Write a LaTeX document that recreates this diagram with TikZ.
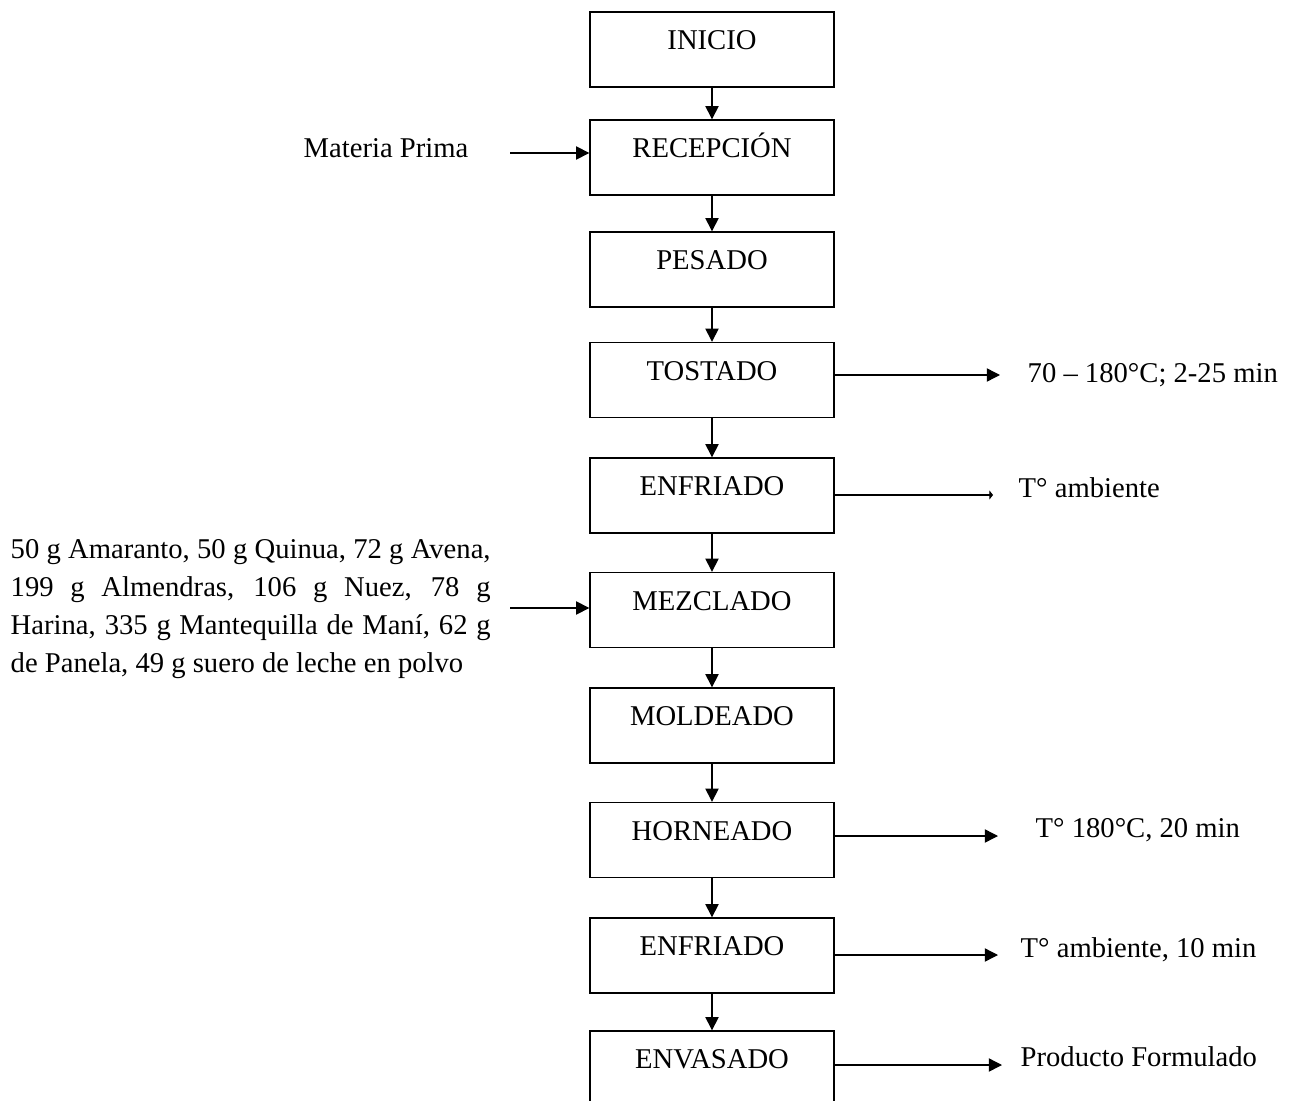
\documentclass[tikz,border=0pt]{standalone}
\usepackage{fontspec}
\setmainfont{Liberation Serif}
\usetikzlibrary{calc, positioning, arrows.meta}

\begin{document}
\begin{tikzpicture}[x=0.02cm,y=-0.02cm,line width=0.8pt,>={Triangle[length=7.5pt,width=7.5pt]},font=\fontsize{16.3}{21.6}\selectfont]
  \tikzset{proc/.style={draw,minimum width=4.88cm,minimum height=1.5cm,text height=0.7em,text depth=0.7em,inner sep=2pt}}
  \tikzset{note/.style={inner sep=0,anchor=base west}}
  \path[use as bounding box] (0,0) rectangle (1291,1101);
  \clip (0,0) rectangle (1291,1101);
  \node[proc](inicio) at (712,49.5) {INICIO};
  \node[proc](recep) at (712,157.5) {RECEPCIÓN};
  \node[proc](pesado) at (712,269.5) {PESADO};
  \node[proc](tost) at (712,380) {TOSTADO};
  \node[proc](enf1) at (712,495.5) {ENFRIADO};
  \node[proc](mezc) at (712,610) {MEZCLADO};
  \node[proc](mold) at (712,725.5) {MOLDEADO};
  \node[proc](horn) at (712,840) {HORNEADO};
  \node[proc](enf2) at (712,955.5) {ENFRIADO};
  \node[proc](envas) at (712,1068.5) {ENVASADO};
  \draw [->] (inicio) -- (recep);
  \draw [->] (recep) -- (pesado);
  \draw [->] (pesado) -- (tost);
  \draw [->] (tost) -- (enf1);
  \draw [->] (enf1) -- (mezc);
  \draw [->] (mezc) -- (mold);
  \draw [->] (mold) -- (horn);
  \draw [->] (horn) -- (enf2);
  \draw [->] (enf2) -- (envas);
  \coordinate(mp) at (510,153);
  \coordinate(ing) at (510,608);
  \coordinate(t1) at (1000,375);
  \coordinate(t2) at (993,495);
  \coordinate(t3) at (998,836);
  \coordinate(t4) at (998,955);
  \coordinate(t5) at (1002,1065);
  \node[note](mpl) at (303,158) {Materia Prima};
  \node[note,align=left](ingl) at (10,672) {\makebox[9.6cm][s]{50 g Amaranto, 50 g Quinua, 72 g Avena,}\\
    \makebox[9.6cm][s]{199 g Almendras, 106 g Nuez, 78 g}\\
    \makebox[9.6cm][s]{Harina, 335 g Mantequilla de Maní, 62 g}\\
    de Panela, 49 g suero de leche en polvo};
  \node[note](t1l) at (1027,382) {70 – 180°C; 2-25 min};
  \node[note](t2l) at (1018,497) {T° ambiente};
  \node[note](t3l) at (1035,837) {T° 180°C, 20 min};
  \node[note](t4l) at (1020,957) {T° ambiente, 10 min};
  \node[note](t5l) at (1020,1066) {Producto Formulado};
  \draw [->] (mp) -- (recep.west |- mp);
  \draw [->] (ing) -- (mezc.west |- ing);
  \draw [->] (tost.east |- t1) -- (t1);
  \draw [-{Triangle[length=2pt,width=5pt]}] (enf1.east |- t2) -- (t2);
  \draw [->] (horn.east |- t3) -- (t3);
  \draw [->] (enf2.east |- t4) -- (t4);
  \draw [->] (envas.east |- t5) -- (t5);
\end{tikzpicture}
\end{document}
